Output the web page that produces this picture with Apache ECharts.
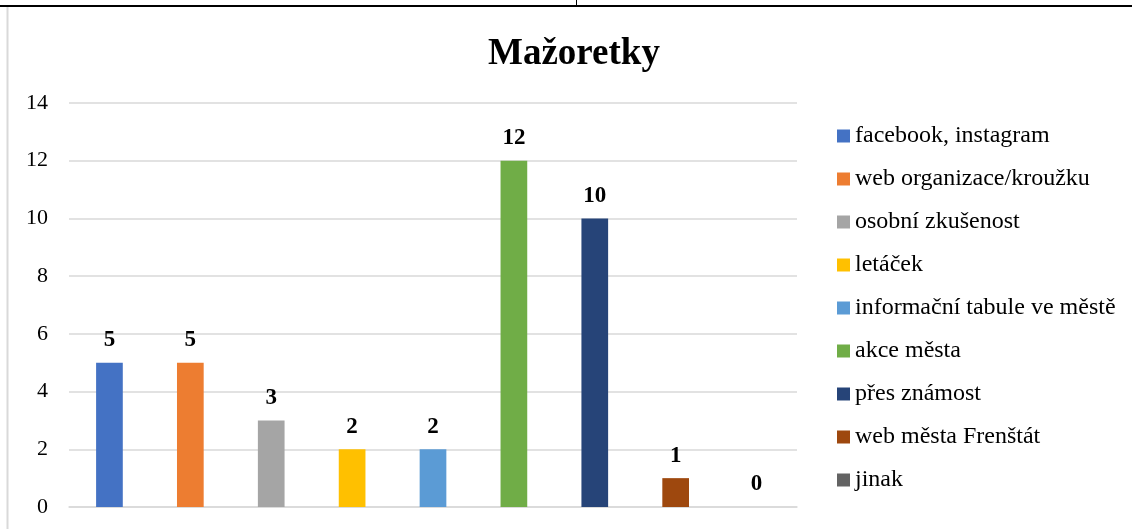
<!DOCTYPE html>
<html>
<head>
<meta charset="utf-8">
<script src="https://cdn.jsdelivr.net/npm/echarts@6/dist/echarts.min.js"></script>
<style>
html,body{margin:0;padding:0;background:#fff;}
#c{width:1132px;height:529px;}
</style>
</head>
<body>
<div id="c"></div>
<script>
const titleText = 'Mažoretky';
const categories = ['facebook, instagram','web organizace/kroužku','osobní zkušenost','letáček','informační tabule ve městě','akce města','přes známost','web města Frenštát','jinak'];
const values = [5, 5, 3, 2, 2, 12, 10, 1, 0];
const colors = ['#4472C4','#ED7D31','#A5A5A5','#FFC000','#5B9BD5','#70AD47','#264478','#9E480E','#636363'];
const yTicks = {min: 0, max: 14, interval: 2};

const font = '"Liberation Serif", "Times New Roman", serif';
const chart = echarts.init(document.getElementById('c'), null, {renderer: 'canvas'});

const series = categories.map((name, i) => ({
  name: name,
  type: 'bar',
  stack: 'all',
  barWidth: '33%',
  itemStyle: {color: colors[i]},
  label: {
    show: true, position: 'top', distance: 11,
    fontFamily: font, fontSize: 23, fontWeight: 'bold', color: '#000',
    formatter: p => (p.value === null || p.value === undefined) ? '' : String(p.value)
  },
  data: categories.map((c, j) => j === i ? values[i] : null)
}));

chart.setOption({
  backgroundColor: '#fff',
  animation: false,
  title: {
    text: titleText, left: 483, top: 31,
    textStyle: {fontFamily: font, fontSize: 37, fontWeight: 'bold', color: '#000'}
  },
  legend: {
    orient: 'vertical', left: 832, top: 119,
    itemWidth: 13, itemHeight: 13, itemGap: 19,
    icon: 'rect',
    textStyle: {fontFamily: font, fontSize: 24, color: '#000'},
    data: categories
  },
  grid: {left: 69, right: 335, top: 103, bottom: 22, containLabel: false},
  xAxis: {
    type: 'category', data: categories,
    axisLine: {show: true, lineStyle: {color: '#d9d9d9', width: 1.5}},
    axisTick: {show: false}, axisLabel: {show: false}
  },
  yAxis: {
    type: 'value', min: yTicks.min, max: yTicks.max, interval: yTicks.interval,
    axisLine: {show: false}, axisTick: {show: false},
    axisLabel: {fontFamily: font, fontSize: 22, color: '#000', margin: 21},
    splitLine: {lineStyle: {color: '#d9d9d9', width: 1.5}}
  },
  graphic: [
    {type: 'line', shape: {x1: 0, y1: 6, x2: 1132, y2: 6}, style: {stroke: '#000', lineWidth: 2}},
    {type: 'line', shape: {x1: 576.5, y1: 0, x2: 576.5, y2: 6}, style: {stroke: '#000', lineWidth: 1}},
    {type: 'line', shape: {x1: 7.5, y1: 7, x2: 7.5, y2: 529}, style: {stroke: '#d9d9d9', lineWidth: 2}}
  ],
  series: series
});
</script>
</body>
</html>
